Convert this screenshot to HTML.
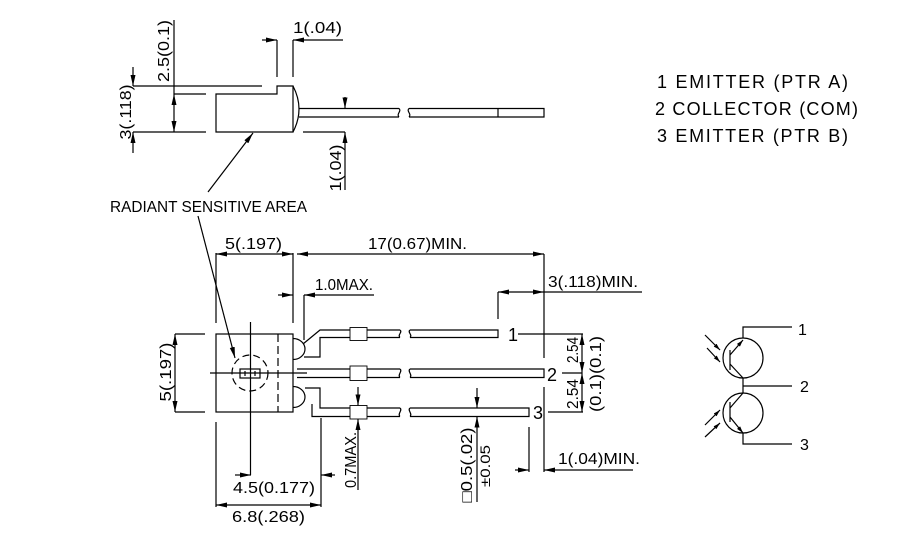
<!DOCTYPE html>
<html><head><meta charset="utf-8"><style>
html,body{margin:0;padding:0;background:#fff;}
svg{display:block;}
text{font-family:"Liberation Sans",sans-serif;fill:#000;}
</style></head><body>
<svg width="911" height="534" viewBox="0 0 911 534" xmlns="http://www.w3.org/2000/svg">
<defs>
<marker id="a" markerUnits="userSpaceOnUse" markerWidth="12" markerHeight="6" refX="11" refY="2.5" orient="auto-start-reverse"><path d="M0,0 L11,2.5 L0,5 Z" fill="#000"/></marker>
<marker id="s" markerUnits="userSpaceOnUse" markerWidth="8" markerHeight="5" refX="7" refY="2" orient="auto-start-reverse"><path d="M0,0 L7,2 L0,4 Z" fill="#000"/></marker>
</defs>
<g fill="none" stroke="#000" stroke-width="1.2">
<!-- SIDE VIEW -->
<path d="M216,94 H277 V86 H293 V132 H216 Z"/>
<path d="M293,86 Q305,109 293,132"/>
<path d="M299,108.5 H399 M299,117 H399 M409,108.5 H544 V117 H409 M498,108.5 V117"/>
<path d="M399,108.5 C402,111 396,114 399,117 M409,108.5 C406,111 412,114 409,117"/>
<path d="M133,86 H262 M174,94 H206 M133,132 H206 M303,132 H345"/>
<path d="M174,20 V94"/>
<path d="M174,132 V94" marker-start="url(#a)" marker-end="url(#a)"/>
<path d="M133,67 V86" marker-end="url(#a)"/>
<path d="M133,153 V132" marker-end="url(#a)"/>
<path d="M277,40 V77 M293,40 V77"/>
<path d="M262,40 H277" marker-end="url(#a)"/>
<path d="M343,40 H293" marker-end="url(#a)"/>
<path d="M345,97 V108.5" marker-end="url(#a)"/>
<path d="M345,190 V132" marker-end="url(#a)"/>
<path d="M208,192 L253,133" marker-end="url(#a)"/>
<path d="M198,216 L235,358" marker-end="url(#a)"/>

<!-- MAIN VIEW -->
<rect x="216" y="334" width="77" height="78"/>
<path d="M278,334 V412" stroke-dasharray="8 4"/>
<circle cx="250" cy="373" r="18" stroke-dasharray="7 4"/>
<path d="M250.5,322 V475 M210,373 H307"/>
<rect x="240" y="369" width="20" height="9"/>
<path d="M245,371 V376 M255,371 V376"/>
<path d="M293,338.5 A12,10.5 0 0 1 293,359.5"/>
<path d="M293,386.5 A12,10.5 0 0 1 293,407.5"/>
<!-- lead 1 -->
<path d="M303,344 L320,330 H350 M367,330 H400 M410,330 H498 V337.5 H410 M400,337.5 H367 M350,337.5 H320 V357 H304"/>
<rect x="350" y="327.5" width="17" height="13" stroke-width="0.9"/>
<!-- lead 2 -->
<path d="M297,369 H350 M367,369 H400 M410,369 H544 V377.5 H410 M400,377.5 H367 M350,377.5 H297"/>
<rect x="350" y="366" width="17" height="14.5" stroke-width="0.9"/>
<!-- lead 3 -->
<path d="M305,388 H320 V408 H350 M367,408 H400 M410,408 H529 V416.5 H410 M400,416.5 H367 M350,416.5 H312 V404"/>
<rect x="350" y="405.5" width="17" height="13.5" stroke-width="0.9"/>
<!-- breaks -->
<path d="M400,330 C403,332 397,335 400,337.5 M410,330 C407,332 413,335 410,337.5"/>
<path d="M400,369 C403,371 397,375 400,377.5 M410,369 C407,371 413,375 410,377.5"/>
<path d="M400,408 C403,410 397,414 400,416.5 M410,408 C407,410 413,414 410,416.5"/>
<!-- dims main -->
<path d="M175,334 H205 M175,412 H205"/>
<path d="M175,412 V334" marker-start="url(#a)" marker-end="url(#a)"/>
<path d="M216,253 V323 M293,253 V323"/>
<path d="M216,254 H293" marker-start="url(#a)" marker-end="url(#a)"/>
<path d="M297,254 H544" marker-start="url(#a)" marker-end="url(#a)"/>
<path d="M544,254 V358 M544,387 V472"/>
<path d="M278,295 H293" marker-end="url(#a)"/>
<path d="M304,295 V340"/>
<path d="M374,295 H304" marker-end="url(#a)"/>
<path d="M498,292 V319"/>
<path d="M498,292 H544" marker-start="url(#a)" marker-end="url(#a)"/>
<path d="M544,292 H642"/>
<path d="M518,334 H583 M562,373 H582 M548,412 H583"/>
<path d="M582,354 V334" marker-end="url(#a)"/>
<path d="M582,354 V373" marker-end="url(#a)"/>
<path d="M582,392 V373" marker-end="url(#a)"/>
<path d="M582,392 V412" marker-end="url(#a)"/>
<path d="M529,427 V472"/>
<path d="M515,470 H529" marker-end="url(#a)"/>
<path d="M633,470 H544" marker-end="url(#a)"/>
<path d="M477,388 V408" marker-end="url(#a)"/>
<path d="M477,502 V416.5" marker-end="url(#a)"/>
<path d="M358,387 V405.5" marker-end="url(#a)"/>
<path d="M358,490 V419" marker-end="url(#a)"/>
<path d="M216,422 V507 M321,418 V507"/>
<path d="M216,505 H321" marker-start="url(#a)" marker-end="url(#a)"/>
<path d="M235,475 H251" marker-end="url(#a)"/>
<path d="M335,475 H321" marker-end="url(#a)"/>

<!-- SCHEMATIC -->
<circle cx="743" cy="358" r="20"/>
<circle cx="743" cy="413" r="20"/>
<path d="M792,327 H743 V338 M743,378 V393 M743,386 H792 M743,433 V444 H792"/>
<path d="M730,350 V370 M730,402 V422"/>
<path d="M730,355 L743,340" marker-end="url(#s)"/>
<path d="M730,364 L743,378"/>
<path d="M730,408 L743,393"/>
<path d="M730,417 L743,433" marker-end="url(#s)"/>
<path d="M705,335 L720,350" marker-end="url(#s)"/>
<path d="M707,348 L720,362" marker-end="url(#s)"/>
<path d="M705,425 L720,410" marker-end="url(#s)"/>
<path d="M705,437 L720,423" marker-end="url(#s)"/>
</g>

<g font-size="16">
<text x="293" y="33" textLength="49" lengthAdjust="spacingAndGlyphs">1(.04)</text>
<text x="110" y="212" textLength="197" lengthAdjust="spacingAndGlyphs">RADIANT SENSITIVE AREA</text>
<text x="225" y="249" textLength="57" lengthAdjust="spacingAndGlyphs">5(.197)</text>
<text x="368" y="249" textLength="99" lengthAdjust="spacingAndGlyphs">17(0.67)MIN.</text>
<text x="315" y="290" textLength="58" lengthAdjust="spacingAndGlyphs">1.0MAX.</text>
<text x="548" y="287" textLength="90" lengthAdjust="spacingAndGlyphs">3(.118)MIN.</text>
<text x="558" y="464" textLength="82" lengthAdjust="spacingAndGlyphs">1(.04)MIN.</text>
<text x="233" y="493" textLength="82" lengthAdjust="spacingAndGlyphs">4.5(0.177)</text>
<text x="232" y="522" textLength="73" lengthAdjust="spacingAndGlyphs">6.8(.268)</text>

<text text-anchor="middle" transform="translate(169,51) rotate(-90)" textLength="62" lengthAdjust="spacingAndGlyphs">2.5(0.1)</text>
<text text-anchor="middle" transform="translate(131,112) rotate(-90)" textLength="55" lengthAdjust="spacingAndGlyphs">3(.118)</text>
<text text-anchor="middle" transform="translate(341,168) rotate(-90)" textLength="47" lengthAdjust="spacingAndGlyphs">1(.04)</text>
<text text-anchor="middle" transform="translate(171,372) rotate(-90)" textLength="59" lengthAdjust="spacingAndGlyphs">5(.197)</text>
<text text-anchor="middle" transform="translate(356,460) rotate(-90)" textLength="56" lengthAdjust="spacingAndGlyphs">0.7MAX.</text>
<text text-anchor="middle" transform="translate(578,350) rotate(-90)" textLength="26" lengthAdjust="spacingAndGlyphs">2.54</text>
<text text-anchor="middle" transform="translate(578,394) rotate(-90)" textLength="30" lengthAdjust="spacingAndGlyphs">2.54</text>
<text text-anchor="middle" transform="translate(601,374) rotate(-90)" textLength="76" lengthAdjust="spacingAndGlyphs">(0.1)(0.1)</text>
<text text-anchor="middle" transform="translate(472,465) rotate(-90)" textLength="75" lengthAdjust="spacingAndGlyphs">□0.5(.02)</text>
<text text-anchor="middle" transform="translate(490,466) rotate(-90)" textLength="42" lengthAdjust="spacingAndGlyphs" font-size="14">±0.05</text>
</g>

<g font-size="18">
<text x="657" y="88" textLength="191" lengthAdjust="spacing">1 EMITTER (PTR A)</text>
<text x="655" y="115" textLength="203" lengthAdjust="spacing">2 COLLECTOR (COM)</text>
<text x="657" y="142" textLength="191" lengthAdjust="spacing">3 EMITTER (PTR B)</text>
<text x="508" y="341">1</text>
<text x="547" y="381">2</text>
<text x="533" y="419">3</text>
</g>
<g font-size="16">
<text x="798" y="335">1</text>
<text x="800" y="392">2</text>
<text x="800" y="450">3</text>
</g>
</svg>
</body></html>
